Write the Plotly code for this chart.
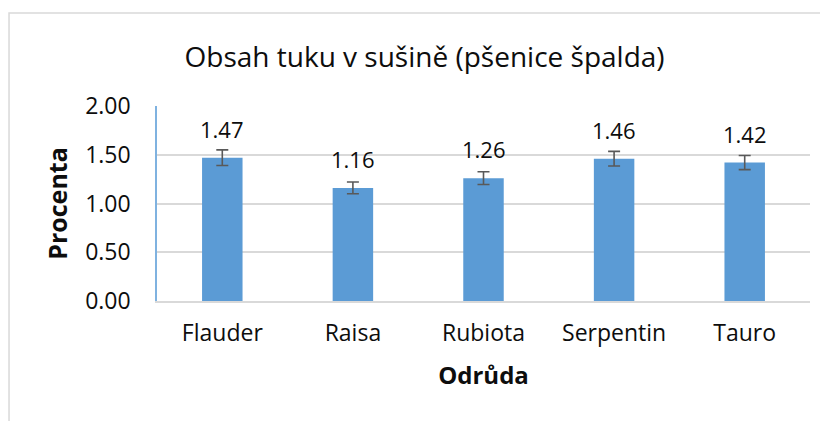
import plotly.graph_objects as go

categories = ["Flauder", "Raisa", "Rubiota", "Serpentin", "Tauro"]
values = [1.47, 1.16, 1.26, 1.46, 1.42]
errors = [0.08, 0.06, 0.065, 0.075, 0.073]
value_labels = ["1.47", "1.16", "1.26", "1.46", "1.42"]
y_ticks = [0, 0.5, 1.0, 1.5, 2.0]
y_tick_labels = ["0.00", "0.50", "1.00", "1.50", "2.00"]

FONT = "Open Sans"
TXT = "#0d0d0d"

fig = go.Figure()
fig.add_trace(go.Bar(
    x=categories, y=values,
    marker=dict(color="#5B9BD5", line=dict(width=0)),
    width=0.31,
    error_y=dict(type="data", array=errors, visible=True, color="#595959",
                 thickness=1.6, width=6),
    hoverinfo="x+y",
))

for c, v, e, lab in zip(categories, values, errors, value_labels):
    fig.add_annotation(x=c, y=v, text=lab, showarrow=False, yanchor="bottom",
                       yshift=12, font=dict(family=FONT, size=22, color=TXT))

fig.add_shape(type="rect", xref="paper", yref="paper",
              x0=-0.2266, x1=1.06, y0=-0.7, y1=1.477,
              line=dict(color="#D9D9D9", width=1.5), fillcolor="rgba(0,0,0,0)",
              layer="below")

fig.update_layout(
    width=820, height=413,
    margin=dict(l=149, r=18, t=98, b=120),
    paper_bgcolor="white", plot_bgcolor="white",
    showlegend=False,
    bargap=0.69,
    title=dict(text="Obsah tuku v sušině (pšenice špalda)", x=0.508, xanchor="center",
               y=0.88, yanchor="middle",
               font=dict(family=FONT, size=28, color=TXT)),
    font=dict(family=FONT, size=22, color=TXT),
)
fig.update_yaxes(
    range=[0, 2], tickvals=y_ticks, ticktext=y_tick_labels,
    showgrid=True, gridcolor="#D9D9D9", gridwidth=1.5,
    showline=True, linecolor="#7FB2E0", linewidth=1.5,
    zeroline=False, ticks="", ticklabelstandoff=20,
    tickfont=dict(family=FONT, size=23, color=TXT),
    title=dict(text="<b>Procenta</b>", standoff=10,
               font=dict(family=FONT, size=25, color=TXT)),
)
fig.update_xaxes(
    showline=True, linecolor="#D9D9D9", linewidth=1.5,
    ticks="", ticklabelstandoff=11,
    tickfont=dict(family=FONT, size=23, color=TXT),
    title=dict(text="<b>Odrůda</b>", standoff=20,
               font=dict(family=FONT, size=24, color=TXT)),
)

fig.write_html("out.html")
